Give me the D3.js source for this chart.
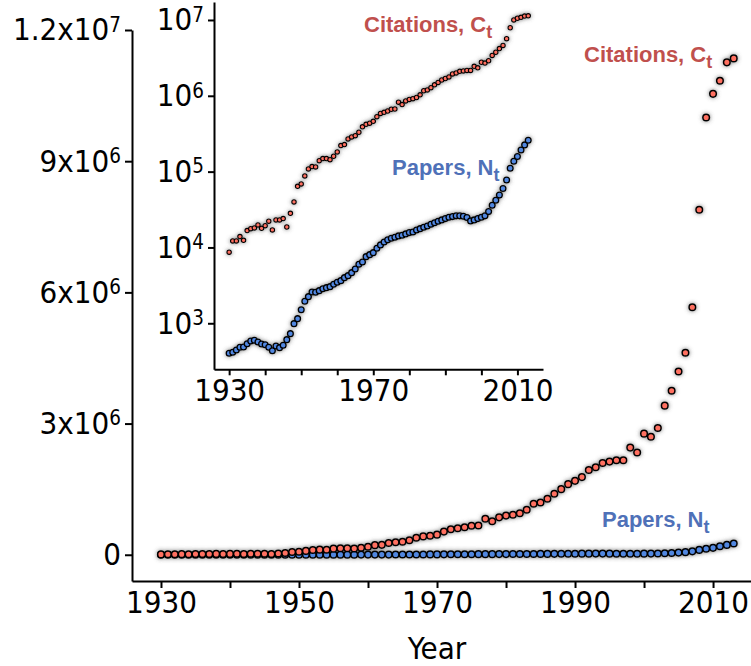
<!DOCTYPE html>
<html>
<head>
<meta charset="utf-8">
<script src="https://cdn.jsdelivr.net/npm/d3@7"></script>
<style>
body { margin: 0; background: #fff; }
svg text { font-family: "DejaVu Sans Condensed", "DejaVu Sans", sans-serif; }
</style>
</head>
<body>
<div id="chart-area"></div>
<script>
// yearly totals, 1930 - 2013
var years = d3.range(1930, 2014);

var citations = [
    8650, 12200, 12200, 13900, 12400, 16700, 17700, 18100, 19800, 17900,
    19400, 22200, 17000, 23100, 23100, 24000, 18600, 28200, 39800, 64000,
    68800, 87800, 108600, 116500, 115400, 139600, 148500, 148500, 143900, 159600,
    181900, 220300, 227100, 269800, 286800, 298300, 330800, 390000, 420000, 435000,
    460000, 530000, 585000, 605000, 630000, 665000, 670000, 825000, 765000, 855000,
    895000, 915000, 950000, 1029000, 1166000, 1196000, 1280000, 1394000, 1500000, 1615000,
    1690000, 1776000, 1940000, 2000000, 2100000, 2130000, 2160000, 2160000, 2450000, 2340000,
    2770000, 2700000, 2900000, 3410000, 3750000, 4190000, 4620000, 5660000, 7890000, 10000000,
    10540000, 10840000, 11260000, 11350000
];

var papers = [
    402, 414, 444, 482, 487, 538, 584, 597, 567, 533,
    522, 482, 435, 502, 477, 513, 608, 730, 989, 1150,
    1511, 1950, 2244, 2588, 2565, 2692, 2858, 2950, 3040, 3271,
    3478, 3650, 3998, 4247, 4653, 5202, 5999, 6437, 7565, 8037,
    8535, 9753, 10800, 11800, 12600, 13200, 13600, 14200, 14500, 15100,
    15700, 16000, 17000, 17700, 18500, 19200, 20200, 21200, 22200, 23100,
    24000, 25000, 25500, 26100, 26100, 25800, 24800, 22400, 23100, 24000,
    25000, 26100, 29700, 36000, 42000, 49000, 60000, 77700, 111000, 137000,
    158000, 193000, 225000, 259000
];

var mainXTicks = d3.range(1930, 2011, 10);
var mainXLabels = [1930, 1950, 1970, 1990, 2010];
var mainYTicks = [0, 3e6, 6e6, 9e6, 1.2e7];
var insetXTicks = d3.range(1930, 2011, 10);
var insetXLabels = [1930, 1970, 2010];
var insetYTicks = [1e3, 1e4, 1e5, 1e6, 1e7];

var redFill = "#ff6f61", blueFill = "#5187e0";
var redText = "#c0504d", blueText = "#4f71b8";

var svg = d3.select('#chart-area')
    .append("svg")
        .attr("width", 751)
        .attr("height", 666);

var filter = svg.append("defs").append("filter")
    .attr("id", "glow")
    .attr("x", "-20%").attr("y", "-20%")
    .attr("width", "140%").attr("height", "140%");
filter.append("feDropShadow")
    .attr("dx", 0).attr("dy", 0)
    .attr("stdDeviation", 2.1)
    .attr("flood-color", "#555")
    .attr("flood-opacity", 0.8);

var rows = years.map((yr, i) => ({ year: yr, c: citations[i], n: papers[i] }));

// ---------- main (linear) chart ----------
var x = d3.scaleLinear().domain([1925.8, 2015.5]).range([132, 751]);
var y = d3.scaleLinear().domain([-0.6e6, 1.2e7]).range([581, 30]);

function styleAxis(g, size) {
    g.select(".domain").attr("stroke", "#000").attr("stroke-width", 2);
    g.selectAll(".tick line").attr("stroke", "#000").attr("stroke-width", 2);
    g.selectAll(".tick text").attr("fill", "#000").attr("font-size", size);
    g.attr("font-family", null);
}

var xAxisCall = d3.axisBottom(x)
    .tickValues(mainXTicks)
    .tickSize(7)
    .tickSizeOuter(0)
    .tickPadding(3)
    .tickFormat(d => mainXLabels.indexOf(d) >= 0 ? d : "");
var xg = svg.append("g")
    .attr("class", "x-axis")
    .attr("transform", "translate(0," + 581 + ")")
    .call(xAxisCall);
styleAxis(xg, 31);

var yAxisCall = d3.axisLeft(y)
    .tickValues(mainYTicks)
    .tickSize(7)
    .tickSizeOuter(0)
    .tickPadding(4);
var yg = svg.append("g")
    .attr("class", "y-axis")
    .attr("transform", "translate(132,0)")
    .call(yAxisCall);
styleAxis(yg, 31);
yg.selectAll(".tick text").each(function(d) {
    var t = d3.select(this).text(null);
    if (d === 0) { t.text("0"); return; }
    var e = Math.floor(Math.log10(d));
    var m = +(d / Math.pow(10, e)).toFixed(1);
    t.append("tspan").text(m + "x10");
    t.append("tspan").attr("dy", "-0.42em").attr("font-size", "0.66em").text(e);
});

svg.append("text")
    .attr("x", x(1970))
    .attr("y", 659)
    .attr("text-anchor", "middle")
    .attr("font-size", 31)
    .text("Year");

var mainPts = svg.append("g").attr("filter", "url(#glow)");
mainPts.selectAll(".n").data(rows).enter().append("circle")
    .attr("cx", d => x(d.year))
    .attr("cy", d => y(d.n))
    .attr("r", 3.3)
    .attr("fill", blueFill)
    .attr("stroke", "#000")
    .attr("stroke-width", 1.5);
mainPts.selectAll(".c").data(rows).enter().append("circle")
    .attr("cx", d => x(d.year))
    .attr("cy", d => y(d.c))
    .attr("r", 3.3)
    .attr("fill", redFill)
    .attr("stroke", "#000")
    .attr("stroke-width", 1.5);

// ---------- inset (log) chart ----------
var xi = d3.scaleLinear().domain([1925.8, 2017.1]).range([214, 543]);
var yi = d3.scaleLog().domain([Math.pow(10, 2.393), Math.pow(10, 7.237)]).range([369.3, 2]);

var xiAxisCall = d3.axisBottom(xi)
    .tickValues(insetXTicks)
    .tickSize(6)
    .tickSizeOuter(0)
    .tickPadding(4)
    .tickFormat(d => insetXLabels.indexOf(d) >= 0 ? d : "");
var xig = svg.append("g")
    .attr("transform", "translate(0,369.3)")
    .call(xiAxisCall);
styleAxis(xig, 31);

var yiAxisCall = d3.axisLeft(yi)
    .tickValues(insetYTicks)
    .tickSize(6)
    .tickSizeOuter(0)
    .tickPadding(4);
var yig = svg.append("g")
    .attr("transform", "translate(214,0)")
    .call(yiAxisCall);
styleAxis(yig, 31);
yig.selectAll(".tick text").each(function(d) {
    var t = d3.select(this).text(null);
    t.append("tspan").text("10");
    t.append("tspan").attr("dy", "-0.42em").attr("font-size", "0.66em").text(Math.round(Math.log10(d)));
});

var insetPts = svg.append("g").attr("filter", "url(#glow)");
insetPts.selectAll(".n").data(rows).enter().append("circle")
    .attr("cx", d => xi(d.year))
    .attr("cy", d => yi(d.n))
    .attr("r", 2.9)
    .attr("fill", blueFill)
    .attr("stroke", "#000")
    .attr("stroke-width", 1.3);
insetPts.selectAll(".c").data(rows).enter().append("circle")
    .attr("cx", d => xi(d.year))
    .attr("cy", d => yi(d.c))
    .attr("r", 2.2)
    .attr("fill", redFill)
    .attr("stroke", "#000")
    .attr("stroke-width", 1.1);

// ---------- series labels ----------
function seriesLabel(px, py, name, sym, color) {
    var t = svg.append("text")
        .attr("x", px).attr("y", py)
        .attr("fill", color)
        .attr("font-size", 22)
        .attr("font-weight", "bold")
        .style("font-family", "'Liberation Sans', Arial, sans-serif");
    t.append("tspan").text(name + ", " + sym);
    t.append("tspan").attr("dy", 6).attr("font-size", 18).text("t");
}
seriesLabel(584, 62, "Citations", "C", redText);
seriesLabel(364, 32, "Citations", "C", redText);
seriesLabel(602, 527, "Papers", "N", blueText);
seriesLabel(392, 175, "Papers", "N", blueText);
</script>
</body>
</html>
